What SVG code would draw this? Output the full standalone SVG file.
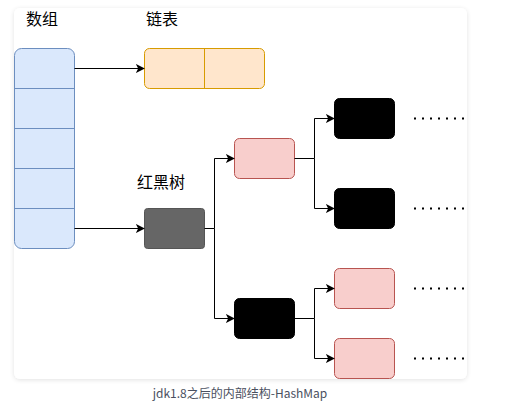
<svg xmlns="http://www.w3.org/2000/svg" width="517" height="410" viewBox="0 0 517 410">
<defs>
<filter id="sh" x="-5%" y="-5%" width="110%" height="110%">
<feGaussianBlur in="SourceAlpha" stdDeviation="2.5"/>
<feOffset dx="0" dy="1"/>
<feComponentTransfer><feFuncA type="linear" slope="0.12"/></feComponentTransfer>
<feMerge><feMergeNode/><feMergeNode in="SourceGraphic"/></feMerge>
</filter>
<marker id="arr" viewBox="0 0 10 10" refX="9" refY="5" markerWidth="9" markerHeight="9" markerUnits="userSpaceOnUse" orient="auto">
<path d="M0,0 L10,5 L0,10 L2.5,5 Z" fill="#000"/>
</marker>
</defs>
<style>
.lbl{font-family:"Noto Sans CJK SC","Liberation Sans",sans-serif;font-size:16px;fill:#000}
.cap{font-family:"Noto Sans CJK SC","Liberation Sans",sans-serif;font-size:12px;fill:#4a5060}
.c{fill:none;stroke:#000;stroke-width:1}
.dot{fill:none;stroke:#000;stroke-width:2;stroke-dasharray:2 6}
.red{fill:#f8cecc;stroke:#b85450}
.blk{fill:#000;stroke:#000}
</style>
<rect width="517" height="410" fill="#fff"/>
<rect x="14" y="8" width="453" height="371" rx="6" fill="#fff" filter="url(#sh)"/>
<text class="lbl" x="26" y="25">数组</text>
<text class="lbl" x="146" y="25">链表</text>
<text class="lbl" x="137" y="188">红黑树</text>
<g id="array">
<rect x="14.5" y="48.5" width="60" height="200" rx="7" fill="#dae8fc" stroke="#6c8ebf"/>
<path d="M14.5 88.5H74.5M14.5 128.5H74.5M14.5 168.5H74.5M14.5 208.5H74.5" stroke="#6c8ebf"/>
</g>
<g id="list">
<rect x="144.5" y="48.5" width="120" height="40" rx="5" fill="#ffe6cc" stroke="#d79b00"/>
<path d="M204.5 48.5V88.5" stroke="#d79b00"/>
</g>
<g id="root"><rect x="144.5" y="208.5" width="60" height="40" rx="3" fill="#666" stroke="#555"/></g>
<g id="r1"><rect x="234.5" y="138.5" width="60" height="40" rx="5" class="red"/></g>
<g id="b1"><rect x="234.5" y="298.5" width="60" height="40" rx="5" class="blk"/></g>
<g id="b2"><rect x="334.5" y="98.5" width="60" height="40" rx="5" class="blk"/></g>
<g id="b3"><rect x="334.5" y="188.5" width="60" height="40" rx="5" class="blk"/></g>
<g id="r2"><rect x="334.5" y="268.5" width="60" height="40" rx="5" class="red"/></g>
<g id="r3"><rect x="334.5" y="338.5" width="60" height="40" rx="5" class="red"/></g>
<g id="connectors">
<path class="c" d="M74.5 68.5H144" marker-end="url(#arr)"/>
<path class="c" d="M74.5 228.5H144" marker-end="url(#arr)"/>
<path class="c" d="M204.5 228.5H214.5V158.5H234" marker-end="url(#arr)"/>
<path class="c" d="M214.5 228.5V318.5H234" marker-end="url(#arr)"/>
<path class="c" d="M294.5 158.5H314.5V118.5H334" marker-end="url(#arr)"/>
<path class="c" d="M314.5 158.5V208.5H334" marker-end="url(#arr)"/>
<path class="c" d="M294.5 318.5H314.5V288.5H334" marker-end="url(#arr)"/>
<path class="c" d="M314.5 318.5V358.5H334" marker-end="url(#arr)"/>
<path class="dot" d="M414 118.5H466"/>
<path class="dot" d="M414 208.5H466"/>
<path class="dot" d="M414 288.5H466"/>
<path class="dot" d="M414 358.5H466"/>
</g>
<text class="cap" x="240" y="398" text-anchor="middle">jdk1.8之后的内部结构-HashMap</text>
</svg>
